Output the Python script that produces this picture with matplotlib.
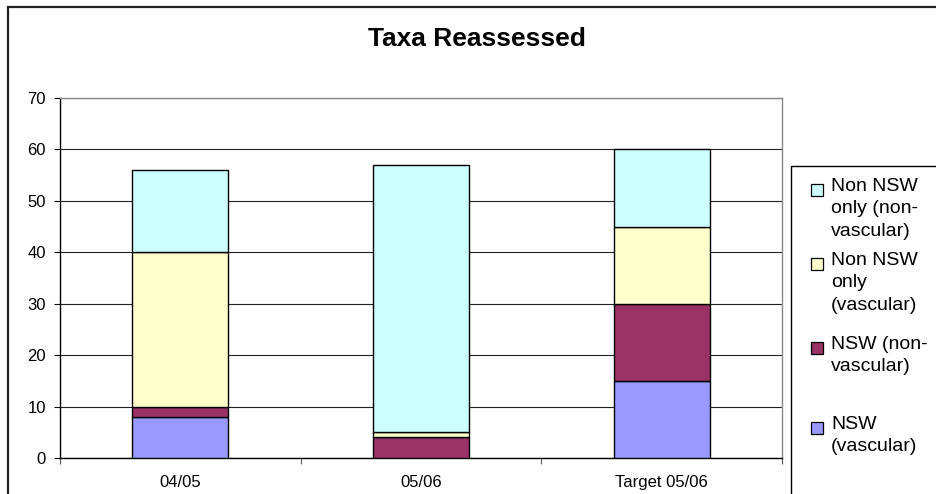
import numpy as np
import matplotlib.pyplot as plt
from matplotlib.patches import Rectangle

plt.rcParams['font.family'] = ['Liberation Sans', 'DejaVu Sans']

# Data
periods = ['04/05', '05/06', 'Target 05/06']
nsw_vasc = [8, 0, 15]
nsw_nonvasc = [2, 4, 15]
non_nsw_vasc = [30, 1, 15]
non_nsw_nonvasc = [16, 52, 15]

series = [nsw_vasc, nsw_nonvasc, non_nsw_vasc, non_nsw_nonvasc]
colors = ['#9999FF', '#993366', '#FFFFCC', '#CCFFFF']
labels = ['NSW\n(vascular)', 'NSW (non-\nvascular)',
          'Non NSW\nonly\n(vascular)', 'Non NSW\nonly (non-\nvascular)']

W, H = 937, 494
fig = plt.figure(figsize=(W / 100, H / 100), dpi=100)
ax = fig.add_axes([60 / W, 1 - 458 / H, (782 - 60) / W, (458 - 98) / H])

x = np.arange(len(periods))
bottom = np.zeros(len(periods))
for vals, c in zip(series, colors):
    ax.bar(x, vals, width=0.4, bottom=bottom, color=c, edgecolor='black',
           linewidth=1, zorder=3)
    bottom += np.array(vals)

ax.set_xlim(-0.5, 2.5)
ax.set_ylim(0, 70)
ax.set_yticks(range(0, 71, 10))
ax.yaxis.grid(True, color='#222222', linewidth=0.8, zorder=0)
ax.set_axisbelow(True)

ax.set_xticks(x)
ax.set_xticklabels(periods)
ax.set_xticks([-0.5, 0.5, 1.5, 2.5], minor=True)
ax.tick_params(axis='x', which='major', length=0, pad=12, labelsize=12)
ax.tick_params(axis='x', which='minor', length=4, width=0.8, color='#555555')
ax.tick_params(axis='y', length=4, width=0.8, pad=6, labelsize=12)

for s in ['top', 'right']:
    ax.spines[s].set_color('#888888')
    ax.spines[s].set_linewidth(1)
ax.spines['left'].set_linewidth(1)
ax.spines['bottom'].set_linewidth(1)

# Title
fig.text(477 / W, 1 - 38.5 / H, 'Taxa Reassessed', ha='center', va='center',
         fontsize=19, fontweight='bold')

# Outer chart border
fig.add_artist(Rectangle((8 / W, -0.1), 1.2, 1 - 7 / H + 0.1, transform=fig.transFigure,
                         fill=False, edgecolor='#222222', linewidth=1.6))

# Legend box (cut off at the edges, as in the original)
fig.add_artist(Rectangle((791 / W, -0.1), 1.0, 1 - 166 / H + 0.1, transform=fig.transFigure,
                         fill=False, edgecolor='black', linewidth=1))

legend_y = [428, 348, 264, 190]
for lab, c, ly in zip(labels, colors, legend_y):
    fig.add_artist(Rectangle((811 / W, 1 - (ly + 6) / H), 12 / W, 12 / H,
                             transform=fig.transFigure, facecolor=c,
                             edgecolor='black', linewidth=0.9))
    fig.text(831 / W, 1 - (ly - 12) / H, lab, ha='left', va='top',
             fontsize=14, linespacing=1.42)

fig.savefig('out.png', dpi=100)
